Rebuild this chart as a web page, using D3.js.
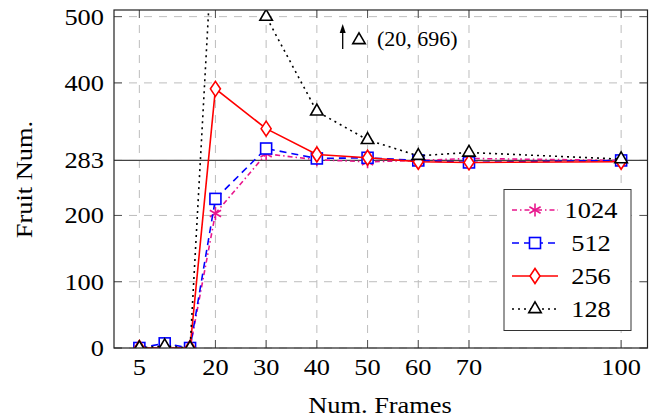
<!DOCTYPE html>
<html>
<head>
<meta charset="utf-8">
<script src="https://cdn.jsdelivr.net/npm/d3@7/dist/d3.min.js"></script>
<style>
  body { margin: 0; background: #fff; }
  svg { display: block; }
  text { font-family: "Liberation Serif", "Times New Roman", serif; fill: #000; }
</style>
</head>
<body>
<svg id="chart" width="661" height="417"></svg>
<script>
// data
var frames = [5, 10, 15, 20, 30, 40, 50, 60, 70, 100];
var fruit1024 = [0, 0, 0, 203, 293, 284, 281, 283, 286, 283];
var fruit512  = [0, 7, 0, 225, 301, 286, 287, 283, 280, 283];
var fruit256  = [0, 0, 0, 391, 331, 292, 287, 281, 280, 281];
var fruit128  = [0, 3, 0, 696, 500, 357, 314, 290, 295, 285];

var xTicks = [5, 20, 30, 40, 50, 60, 70, 100];
var yTicks = [0, 100, 200, 283, 400, 500];
var refLine = 283;
var outlier = { x: 20, y: 696 };

var series = [
    { name: "1024", values: fruit1024, color: "#e8168c", dash: "5,3,1.5,3", mark: "asterisk" },
    { name: "512",  values: fruit512,  color: "#0000ff", dash: "7,5",       mark: "square" },
    { name: "256",  values: fruit256,  color: "#ff0000", dash: null,        mark: "diamond" },
    { name: "128",  values: fruit128,  color: "#000000", dash: "2,4",       mark: "triangle" }
];

// plot box (window.top is read-only, hence the prefixed names)
var plotL = 114, plotR = 647.5, plotT = 10, plotB = 348;

var svg = d3.select("#chart");

var x = d3.scaleLinear().domain([0, 105.2]).range([plotL, plotR]);
var y = d3.scaleLinear().domain([0, 510]).range([plotB, plotT]);

// text is a little wider than plain Times in the original
var stretch = 1.1;
function addText(parent, tx, ty, str, size, anchor, angle) {
    return parent.append("text")
        .attr("transform", "translate(" + tx + "," + ty + ") rotate(" + (angle || 0) + ") scale(" + stretch + ",1)")
        .attr("text-anchor", anchor || "start")
        .attr("font-size", size)
        .text(str);
}

svg.append("defs").append("clipPath").attr("id", "plot-clip")
    .append("rect")
    .attr("x", plotL).attr("y", plotT)
    .attr("width", plotR - plotL).attr("height", plotB - plotT);

// grid
var grid = svg.append("g")
    .attr("stroke", "#bdbdbd")
    .attr("stroke-width", 1)
    .attr("stroke-dasharray", "8,7");

grid.selectAll(".gx").data(xTicks).enter().append("line")
    .attr("x1", function(d) { return x(d); })
    .attr("x2", function(d) { return x(d); })
    .attr("y1", plotT).attr("y2", plotB);

grid.selectAll(".gy").data(yTicks).enter().append("line")
    .attr("y1", function(d) { return y(d); })
    .attr("y2", function(d) { return y(d); })
    .attr("x1", plotL).attr("x2", plotR);

// ticks on all four sides, pointing inwards
var tickLen = 8;
var ticks = svg.append("g").attr("stroke", "#555").attr("stroke-width", 1);

xTicks.forEach(function(d) {
    ticks.append("line").attr("x1", x(d)).attr("x2", x(d)).attr("y1", plotB).attr("y2", plotB - tickLen);
    ticks.append("line").attr("x1", x(d)).attr("x2", x(d)).attr("y1", plotT).attr("y2", plotT + tickLen);
});
yTicks.forEach(function(d) {
    ticks.append("line").attr("y1", y(d)).attr("y2", y(d)).attr("x1", plotL).attr("x2", plotL + tickLen);
    ticks.append("line").attr("y1", y(d)).attr("y2", y(d)).attr("x1", plotR).attr("x2", plotR - tickLen);
});

// reference line
svg.append("line")
    .attr("x1", plotL).attr("x2", plotR)
    .attr("y1", y(refLine)).attr("y2", y(refLine))
    .attr("stroke", "#444").attr("stroke-width", 1.2);

// marker drawing
function drawMark(g, kind, color) {
    if (kind === "asterisk") {
        [90, 30, 150].forEach(function(a) {
            var r = 6.5, rad = a * Math.PI / 180;
            g.append("line")
                .attr("x1", -r * Math.cos(rad)).attr("y1", -r * Math.sin(rad))
                .attr("x2", r * Math.cos(rad)).attr("y2", r * Math.sin(rad))
                .attr("stroke", color).attr("stroke-width", 1.6);
        });
    } else if (kind === "square") {
        g.append("rect").attr("x", -5.5).attr("y", -5.5).attr("width", 11).attr("height", 11)
            .attr("fill", "#fff").attr("stroke", color).attr("stroke-width", 1.6);
    } else if (kind === "diamond") {
        g.append("path").attr("d", "M0,-7.5L5,0L0,7.5L-5,0Z")
            .attr("fill", "#fff").attr("stroke", color).attr("stroke-width", 1.6);
    } else if (kind === "triangle") {
        var r = 7.2;
        g.append("path")
            .attr("d", "M0," + (-r) + "L" + (r * 0.866) + "," + (r / 2) + "L" + (-r * 0.866) + "," + (r / 2) + "Z")
            .attr("fill", "#fff").attr("stroke", color).attr("stroke-width", 1.6)
            .attr("stroke-linejoin", "miter");
    }
}

var plot = svg.append("g").attr("clip-path", "url(#plot-clip)");

var line = d3.line()
    .x(function(d) { return x(d[0]); })
    .y(function(d) { return y(d[1]); });

series.forEach(function(s) {
    var pts = frames.map(function(f, i) { return [f, s.values[i]]; });
    var g = plot.append("g");
    g.append("path")
        .attr("d", line(pts))
        .attr("fill", "none")
        .attr("stroke", s.color)
        .attr("stroke-width", 1.6)
        .attr("stroke-dasharray", s.dash);
    pts.forEach(function(p) {
        var m = g.append("g").attr("transform", "translate(" + x(p[0]) + "," + y(p[1]) + ")");
        drawMark(m, s.mark, s.color);
    });
});

// frame
svg.append("rect")
    .attr("x", plotL).attr("y", plotT)
    .attr("width", plotR - plotL).attr("height", plotB - plotT)
    .attr("fill", "none").attr("stroke", "#222").attr("stroke-width", 1.2);

// tick labels
xTicks.forEach(function(d) {
    addText(svg, x(d), 375, d, 24, "middle");
});
yTicks.forEach(function(d) {
    addText(svg, 104, y(d) + 8, d, 24, "end");
});

// axis titles
addText(svg, 380, 413, "Num. Frames", 24, "middle");
addText(svg, 32, 179.5, "Fruit Num.", 24, "middle", -90);

// annotation for the clipped point
var ax = 342.7;
svg.append("line").attr("x1", ax).attr("x2", ax).attr("y1", 49).attr("y2", 31)
    .attr("stroke", "#000").attr("stroke-width", 1.3);
svg.append("path").attr("d", "M" + ax + ",24L" + (ax + 3) + ",33L" + (ax - 3) + ",33Z").attr("fill", "#000");
var am = svg.append("g").attr("transform", "translate(359,40)");
drawMark(am, "triangle", "#000");
addText(svg, 377, 46, "(" + outlier.x + ", " + outlier.y + ")", 20);

// legend
var lg = svg.append("g");
lg.append("rect")
    .attr("x", 504).attr("y", 189.5)
    .attr("width", 127).attr("height", 141)
    .attr("fill", "#fff").attr("stroke", "#333").attr("stroke-width", 1);

series.forEach(function(s, i) {
    var ly = 210 + i * 33;
    lg.append("line")
        .attr("x1", 512).attr("x2", 558)
        .attr("y1", ly).attr("y2", ly)
        .attr("stroke", s.color).attr("stroke-width", 1.6)
        .attr("stroke-dasharray", s.dash);
    var m = lg.append("g").attr("transform", "translate(535," + ly + ")");
    drawMark(m, s.mark, s.color);
    addText(lg, 591, ly + 8, s.name, 24, "middle");
});
</script>
</body>
</html>
